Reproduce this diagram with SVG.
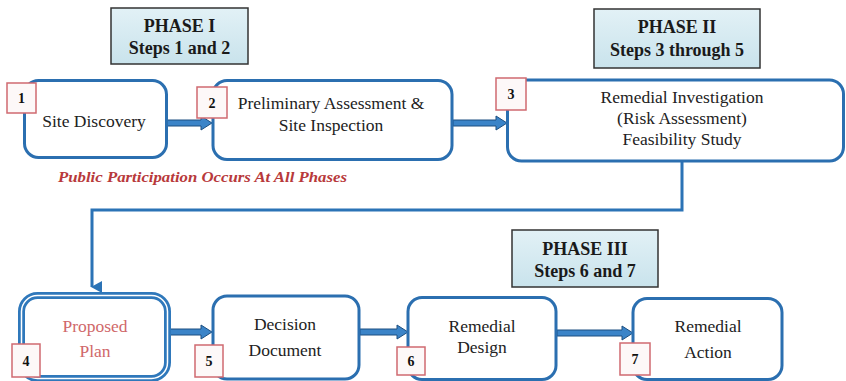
<svg xmlns="http://www.w3.org/2000/svg" width="846" height="381" viewBox="0 0 846 381" font-family="Liberation Serif">
<defs>
<linearGradient id="phg" x1="0" y1="0" x2="0" y2="1">
<stop offset="0" stop-color="#e2f1f6"/>
<stop offset="1" stop-color="#c9e3ec"/>
</linearGradient>
<marker id="ah" markerWidth="12" markerHeight="12" refX="6" refY="10" orient="auto" markerUnits="userSpaceOnUse" viewBox="0 0 12 12">
<path d="M0,0 L12,0 L6,11 Z" fill="#2b73b6"/>
</marker>
</defs>
<style>
text{font-family:'Liberation Serif','Times New Roman',serif}
.node{fill:#ffffff;stroke:#2b6fb0;stroke-width:3}
.phase{fill:url(#phg);stroke:#333;stroke-width:1.5}
.badge{fill:#fdf8f8;stroke:#cf6a70;stroke-width:1.5}
.bn{font-weight:bold;font-size:14px;fill:#111;text-anchor:middle}
.pt{font-weight:bold;font-size:18px;fill:#1a1a1a;text-anchor:middle}
.nt{font-size:17.5px;fill:#222;text-anchor:middle}
.red{fill:#d0686a}
.arr{fill:#3b84c8;stroke:#1d4f80;stroke-width:1}
.conn{fill:none;stroke:#2b73b6;stroke-width:3}
.pub{font-weight:bold;font-style:italic;font-size:14px;fill:#b8393b}
</style>
<rect width="846" height="381" fill="#ffffff"/>

<g id="phase1">
<rect class="phase" x="111" y="8" width="137" height="56"/>
<text class="pt" x="179.5" y="32">PHASE I</text>
<text class="pt" x="179.5" y="54">Steps 1 and 2</text>
</g>
<g id="phase2">
<rect class="phase" x="594" y="9" width="166" height="59"/>
<text class="pt" x="677" y="33">PHASE II</text>
<text class="pt" x="677" y="56">Steps 3 through 5</text>
</g>
<g id="phase3">
<rect class="phase" x="512" y="230" width="146" height="57"/>
<text class="pt" x="585" y="255">PHASE III</text>
<text class="pt" x="585" y="277">Steps 6 and 7</text>
</g>

<text class="pub" x="58" y="182" textLength="289" lengthAdjust="spacingAndGlyphs">Public Participation Occurs At All Phases</text>

<g id="connectors">
<path class="arr" d="M167,120 H201 V116 L212,123 L201,130 V126 H167 Z"/>
<path class="arr" d="M453,120 H496 V116 L507,123 L496,130 V126 H453 Z"/>
<path class="conn" d="M682,162 V210 H92 V287" marker-end="url(#ah)"/>
<path class="arr" d="M169,329 H201 V325 L212,332 L201,339 V335 H169 Z"/>
<path class="arr" d="M360,329 H397 V325 L408,332 L397,339 V335 H360 Z"/>
<path class="arr" d="M557,330 H622 V326 L633,333 L622,340 V336 H557 Z"/>
</g>

<g id="node1">
<rect class="node" x="24.5" y="80.5" width="142" height="77" rx="14"/>
<text class="nt" x="94" y="127">Site Discovery</text>
<rect class="badge" x="7" y="83" width="29" height="30"/>
<text class="bn" x="21.5" y="103">1</text>
</g>
<g id="node2">
<rect class="node" x="213" y="80.5" width="239" height="79" rx="14"/>
<text class="nt" x="331" y="109">Preliminary Assessment &amp;</text>
<text class="nt" x="331" y="131">Site Inspection</text>
<rect class="badge" x="197" y="87" width="30" height="31"/>
<text class="bn" x="212" y="108">2</text>
</g>
<g id="node3">
<rect class="node" x="507.5" y="80" width="336" height="81" rx="14"/>
<text class="nt" x="682" y="103">Remedial Investigation</text>
<text class="nt" x="682" y="124">(Risk Assessment)</text>
<text class="nt" x="682" y="145">Feasibility Study</text>
<rect class="badge" x="496" y="78" width="30" height="32"/>
<text class="bn" x="511" y="99">3</text>
</g>
<g id="node4">
<rect x="21.5" y="295.5" width="146" height="83" rx="16" fill="#ffffff" stroke="#2f78bb" stroke-width="7"/>
<rect x="21.5" y="295.5" width="146" height="83" rx="16" fill="none" stroke="#ffffff" stroke-width="1.5"/>
<text class="nt red" x="95" y="332">Proposed</text>
<text class="nt red" x="95" y="357">Plan</text>
<rect class="badge" x="12" y="344" width="28" height="33"/>
<text class="bn" x="26" y="366">4</text>
</g>
<g id="node5">
<rect class="node" x="213" y="296" width="146" height="83" rx="14"/>
<text class="nt" x="285" y="330">Decision</text>
<text class="nt" x="285" y="356">Document</text>
<rect class="badge" x="195" y="345" width="28" height="32"/>
<text class="bn" x="209" y="366">5</text>
</g>
<g id="node6">
<rect class="node" x="408" y="297.5" width="148" height="82" rx="14"/>
<text class="nt" x="482" y="332">Remedial</text>
<text class="nt" x="482" y="353">Design</text>
<rect class="badge" x="397" y="347" width="28" height="28"/>
<text class="bn" x="411" y="366">6</text>
</g>
<g id="node7">
<rect class="node" x="633" y="298.5" width="149" height="81" rx="14"/>
<text class="nt" x="708" y="332">Remedial</text>
<text class="nt" x="708" y="358">Action</text>
<rect class="badge" x="620" y="343" width="30" height="32"/>
<text class="bn" x="635" y="364">7</text>
</g>
</svg>
